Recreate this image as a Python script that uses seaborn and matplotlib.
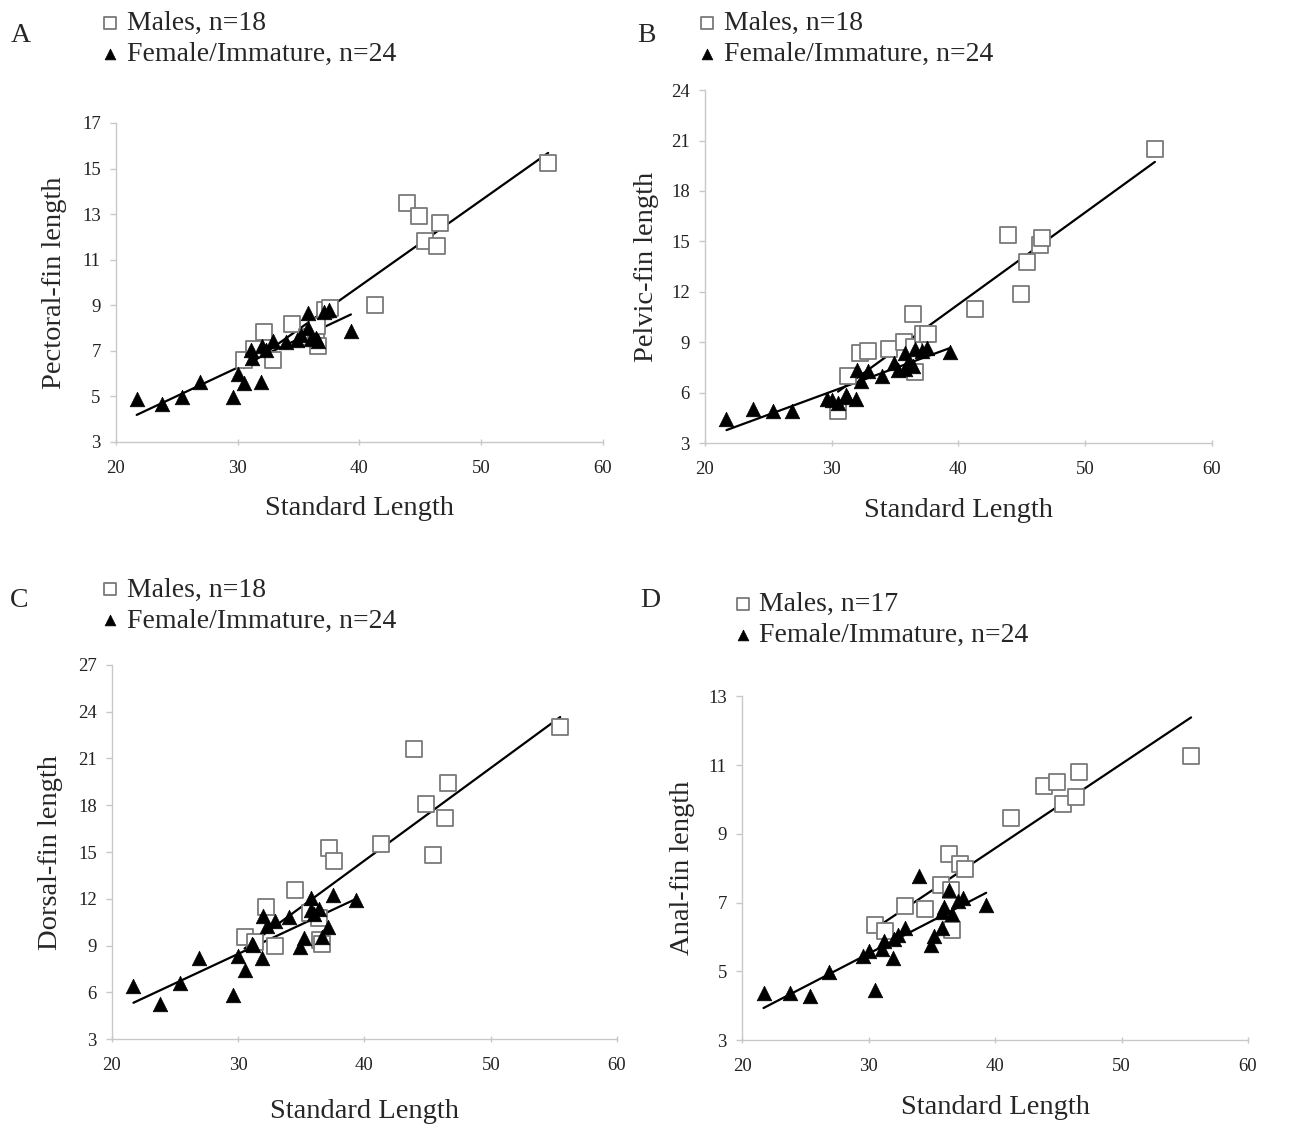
import matplotlib
matplotlib.use("Agg")
import matplotlib.pyplot as plt
import seaborn as sns
import pandas as pd
import numpy as np

# standard length of each fish (same fish in every panel)
male_sl = [30.5, 31.3, 32.2, 32.9, 34.5, 35.7, 36.4, 36.5, 36.6, 37.2, 37.6,
           41.3, 43.9, 44.9, 45.4, 46.4, 46.6, 55.5]
female_sl = [21.7, 23.8, 25.4, 26.9, 29.6, 30.0, 30.5, 31.1, 31.2, 31.9, 32.0, 32.3,
             32.9, 34.0, 34.9, 35.2, 35.8, 35.8, 36.0, 36.4, 36.6, 37.1, 37.5, 39.3]

# A: pectoral fin
pectoral_m = [6.6, 7.1, 7.83, 6.6, 8.18, 7.6, 7.9, 8.08, 7.23, 8.8, 8.86,
              9.0, 13.5, 12.9, 11.8, 11.6, 12.6, 15.25]
pectoral_f = [4.89, 4.67, 4.99, 5.62, 4.99, 5.99, 5.58, 7.03, 6.7, 5.65, 7.23, 7.05,
              7.42, 7.39, 7.47, 7.7, 8.67, 8.0, 7.52, 7.56, 7.42, 8.7, 8.79, 7.86]
# B: pelvic fin
pelvic_m = [4.94, 7.0, 8.38, 8.49, 8.62, 9.05, 10.7, 8.74, 7.26, 9.5, 9.5,
            10.97, 15.37, 11.9, 13.8, 14.8, 15.2, 20.5]
pelvic_f = [4.43, 5.04, 4.94, 4.92, 5.63, 5.57, 5.38, 5.9, 5.75, 5.63, 7.36, 6.72,
            7.3, 7.0, 7.75, 7.36, 8.39, 7.43, 7.75, 7.6, 8.59, 8.49, 8.65, 8.41]
# C: dorsal fin
dorsal_m = [9.56, 9.26, 11.5, 9.0, 12.57, 11.08, 10.75, 9.37, 9.1, 15.28, 14.4,
            15.5, 21.6, 18.1, 14.8, 17.2, 19.4, 23.04]
dorsal_f = [6.44, 5.24, 6.63, 8.23, 5.84, 8.34, 7.44, 9.09, 9.05, 8.23, 10.9, 10.28,
            10.58, 10.86, 8.94, 9.47, 12.07, 11.29, 11.0, 11.33, 9.58, 10.22, 12.25, 11.93]
# D: anal fin (one male not measured)
anal_m = [6.35, 6.17, np.nan, 6.9, 6.8, 7.5, 8.4, 7.38, 6.2, 8.12, 7.97,
          9.47, 10.4, 10.5, 9.87, 10.08, 10.8, 11.26]
anal_f = [4.37, 4.37, 4.29, 4.99, 5.46, 5.6, 4.47, 5.66, 5.88, 5.38, 5.95, 6.06,
          6.26, 7.77, 5.78, 6.04, 6.72, 6.27, 6.87, 7.38, 6.68, 7.04, 7.13, 6.92]

sns.set_style("white")
plt.rcParams['font.family'] = ['Liberation Serif', 'DejaVu Serif']

fig = plt.figure(figsize=(12.93, 11.24), dpi=100)


def plot_panel(rect, male_y, female_y, yticks, ylabel, letter, letter_pos, legend_pos, xpad, ypad):
    ax = fig.add_axes(rect)
    males = pd.DataFrame({'sl': male_sl, 'fin': male_y}).dropna()
    females = pd.DataFrame({'sl': female_sl, 'fin': female_y})

    sns.scatterplot(data=males, x='sl', y='fin', ax=ax, marker='s', s=120,
                    facecolor='white', edgecolor='#7a7a7a', linewidth=1.3,
                    label=f"Males, n={len(males)}", zorder=3)
    sns.scatterplot(data=females, x='sl', y='fin', ax=ax, marker='^', s=110,
                    color='black', edgecolor='black', linewidth=0.5,
                    label=f"Female/Immature, n={len(females)}", zorder=4)
    line = dict(color='black', lw=1.6)
    sns.regplot(data=males, x='sl', y='fin', ax=ax, scatter=False, ci=None,
                truncate=True, line_kws=line)
    sns.regplot(data=females, x='sl', y='fin', ax=ax, scatter=False, ci=None,
                truncate=True, line_kws=line)

    ax.set_xlim(20, 60)
    ax.set_xticks([20, 30, 40, 50, 60])
    ax.set_ylim(yticks[0], yticks[-1])
    ax.set_yticks(yticks)
    for side in ['top', 'right']:
        ax.spines[side].set_visible(False)
    for side in ['left', 'bottom']:
        ax.spines[side].set_color('#c8c8c8')
        ax.spines[side].set_linewidth(1.0)
    ax.tick_params(axis='both', which='major', length=4, width=1.0, color='#c8c8c8',
                   labelsize=13.5, labelcolor='#222222', bottom=True, left=True)
    ax.tick_params(axis='x', direction='inout', pad=11)
    ax.tick_params(axis='y', direction='out', pad=7)
    ax.set_xlabel('Standard Length', fontsize=20.5, labelpad=xpad)
    ax.set_ylabel(ylabel, fontsize=20.5, labelpad=ypad)

    leg = ax.legend(loc='upper left', bbox_to_anchor=legend_pos,
                    bbox_transform=fig.transFigure, frameon=False, fontsize=20,
                    handletextpad=0.1, labelspacing=0.2, borderpad=0,
                    markerscale=0.6, handlelength=1.0)
    leg.legend_handles[0].set_sizes([70])
    leg.legend_handles[1].set_sizes([60])
    fig.text(letter_pos[0], letter_pos[1], letter, fontsize=20, ha='left', va='center')
    return ax


plot_panel([0.0897, 0.6068, 0.3766, 0.2838], pectoral_m, pectoral_f,
           [3, 5, 7, 9, 11, 13, 15, 17], 'Pectoral-fin length', 'A',
           (0.008, 0.968), (0.0636, 1.003), 14, 10.5)
plot_panel([0.5452, 0.6056, 0.3921, 0.3143], pelvic_m, pelvic_f,
           [3, 6, 9, 12, 15, 18, 21, 24], 'Pelvic-fin length', 'B',
           (0.493, 0.968), (0.5254, 1.003), 14, 8.5)
plot_panel([0.0866, 0.0754, 0.3906, 0.3331], dorsal_m, dorsal_f,
           [3, 6, 9, 12, 15, 18, 21, 24, 27], 'Dorsal-fin length', 'C',
           (0.008, 0.466), (0.0636, 0.499), 18, 10.5)
plot_panel([0.5739, 0.0747, 0.3913, 0.3057], anal_m, anal_f,
           [3, 5, 7, 9, 11, 13], 'Anal-fin length', 'D',
           (0.495, 0.466), (0.553, 0.486), 14, 9.5)

fig.savefig('out.png', dpi=100)
